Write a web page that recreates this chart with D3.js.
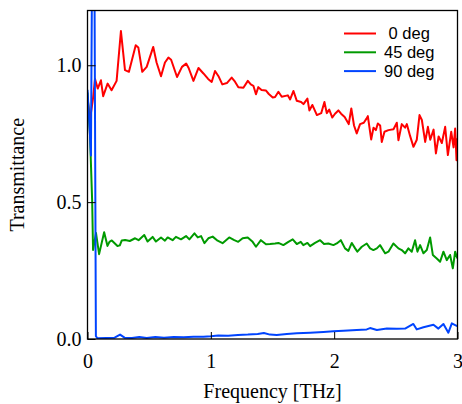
<!DOCTYPE html>
<html>
<head>
<meta charset="utf-8">
<script src="https://cdn.jsdelivr.net/npm/d3@7"></script>
<style>
  body { margin: 0; background: #fff; }
</style>
</head>
<body>
<div id="chart"></div>
<script>
// series: frequency [THz] and transmittance
const freq0 = [0.000, 0.020, 0.045, 0.061, 0.083, 0.109, 0.127, 0.163, 0.195, 0.236, 0.271, 0.304, 0.336, 0.391, 0.412, 0.444, 0.480, 0.533, 0.560, 0.596, 0.628, 0.656, 0.678, 0.726, 0.766, 0.800, 0.820, 0.859, 0.900, 0.940, 0.978, 1.007, 1.034, 1.062, 1.093, 1.130, 1.169, 1.196, 1.223, 1.264, 1.300, 1.324, 1.345, 1.366, 1.385, 1.411, 1.446, 1.470, 1.502, 1.521, 1.548, 1.575, 1.624, 1.643, 1.670, 1.697, 1.732, 1.751, 1.783, 1.799, 1.823, 1.860, 1.895, 1.921, 1.940, 1.960, 1.985, 2.007, 2.034, 2.056, 2.085, 2.118, 2.139, 2.161, 2.183, 2.210, 2.240, 2.262, 2.273, 2.300, 2.319, 2.338, 2.354, 2.373, 2.386, 2.408, 2.440, 2.481, 2.508, 2.521, 2.548, 2.575, 2.589, 2.616, 2.643, 2.670, 2.692, 2.711, 2.738, 2.760, 2.779, 2.806, 2.825, 2.847, 2.873, 2.900, 2.922, 2.949, 2.968, 2.981, 2.992, 3.000]
const trans0 = [0.88, 0.80, 0.88, 0.95, 0.915, 0.945, 0.887, 0.933, 0.909, 0.943, 1.125, 0.982, 0.976, 1.073, 1.065, 0.976, 0.994, 1.067, 1.01, 0.96, 1.01, 1.028, 1.02, 0.957, 0.994, 1.006, 0.99, 0.943, 0.99, 0.97, 0.95, 0.939, 0.979, 0.96, 0.93, 0.935, 0.955, 0.94, 0.92, 0.918, 0.943, 0.93, 0.925, 0.894, 0.92, 0.91, 0.908, 0.895, 0.882, 0.884, 0.903, 0.885, 0.89, 0.875, 0.906, 0.87, 0.866, 0.858, 0.878, 0.835, 0.855, 0.818, 0.825, 0.866, 0.825, 0.838, 0.809, 0.823, 0.835, 0.823, 0.811, 0.785, 0.842, 0.78, 0.751, 0.785, 0.79, 0.805, 0.814, 0.729, 0.772, 0.763, 0.787, 0.78, 0.72, 0.757, 0.763, 0.766, 0.79, 0.726, 0.785, 0.772, 0.785, 0.741, 0.702, 0.728, 0.818, 0.80, 0.72, 0.775, 0.728, 0.765, 0.678, 0.74, 0.716, 0.775, 0.672, 0.757, 0.70, 0.769, 0.653, 0.733]

const freq45 = [0.000, 0.020, 0.038, 0.045, 0.069, 0.094, 0.135, 0.162, 0.178, 0.197, 0.243, 0.262, 0.278, 0.305, 0.343, 0.386, 0.414, 0.460, 0.487, 0.528, 0.555, 0.596, 0.628, 0.650, 0.690, 0.717, 0.758, 0.799, 0.826, 0.867, 0.894, 0.921, 0.948, 0.980, 1.015, 1.055, 1.095, 1.149, 1.190, 1.222, 1.258, 1.299, 1.339, 1.366, 1.406, 1.447, 1.480, 1.521, 1.548, 1.588, 1.629, 1.664, 1.697, 1.729, 1.750, 1.783, 1.805, 1.845, 1.886, 1.918, 1.953, 1.994, 2.021, 2.054, 2.088, 2.115, 2.143, 2.170, 2.188, 2.224, 2.264, 2.291, 2.318, 2.346, 2.372, 2.413, 2.440, 2.480, 2.521, 2.548, 2.575, 2.602, 2.629, 2.656, 2.675, 2.697, 2.724, 2.751, 2.778, 2.800, 2.832, 2.859, 2.886, 2.913, 2.940, 2.962, 2.981, 2.999]
const trans45 = [0.90, 0.75, 0.50, 0.325, 0.387, 0.31, 0.39, 0.34, 0.355, 0.36, 0.34, 0.342, 0.36, 0.362, 0.358, 0.368, 0.361, 0.38, 0.356, 0.373, 0.356, 0.371, 0.359, 0.371, 0.361, 0.373, 0.364, 0.376, 0.364, 0.386, 0.371, 0.376, 0.35, 0.368, 0.374, 0.359, 0.35, 0.371, 0.361, 0.355, 0.368, 0.371, 0.355, 0.337, 0.361, 0.346, 0.347, 0.349, 0.351, 0.343, 0.355, 0.364, 0.347, 0.355, 0.343, 0.351, 0.339, 0.351, 0.361, 0.347, 0.349, 0.343, 0.349, 0.361, 0.331, 0.322, 0.351, 0.331, 0.319, 0.337, 0.349, 0.331, 0.325, 0.331, 0.343, 0.313, 0.319, 0.349, 0.331, 0.325, 0.313, 0.331, 0.319, 0.361, 0.319, 0.343, 0.313, 0.325, 0.371, 0.307, 0.294, 0.282, 0.319, 0.288, 0.307, 0.258, 0.319, 0.294]

const freq90 = [0.000, 0.015, 0.028, 0.040, 0.055, 0.068, 0.080, 0.150, 0.220, 0.264, 0.300, 0.360, 0.420, 0.480, 0.550, 0.620, 0.700, 0.780, 0.860, 0.940, 1.000, 1.060, 1.140, 1.220, 1.300, 1.380, 1.430, 1.480, 1.534, 1.616, 1.697, 1.805, 1.913, 1.994, 2.075, 2.183, 2.264, 2.291, 2.346, 2.427, 2.508, 2.575, 2.642, 2.670, 2.724, 2.805, 2.845, 2.886, 2.926, 2.954, 2.981, 2.999]
const trans90 = [0.91, 0.79, 0.67, 1.6, 1.5, 0.01, 0.003, 0.004, 0.005, 0.016, 0.005, 0.004, 0.007, 0.004, 0.007, 0.005, 0.007, 0.006, 0.008, 0.008, 0.010, 0.013, 0.012, 0.015, 0.016, 0.018, 0.022, 0.016, 0.015, 0.018, 0.021, 0.023, 0.026, 0.028, 0.030, 0.033, 0.035, 0.040, 0.033, 0.038, 0.037, 0.038, 0.055, 0.035, 0.043, 0.052, 0.038, 0.055, 0.023, 0.057, 0.051, 0.047]

const labels = [" 0 deg", "45 deg", "90 deg"]
const colors = ["#ff0000", "#009a00", "#0044ff"]
const xTicks = [0, 1, 2, 3]
const yTicks = [0.0, 0.5, 1.0]

const series = [
    { label: labels[0], color: colors[0], pts: freq0.map((f, i) => [f, trans0[i]]) },
    { label: labels[1], color: colors[1], pts: freq45.map((f, i) => [f, trans45[i]]) },
    { label: labels[2], color: colors[2], pts: freq90.map((f, i) => [f, trans90[i]]) },
]

const W = 462, H = 404
const margin = { top: 10.5, right: 4.5, bottom: 65, left: 87.5 }
const width = W - margin.left - margin.right
const height = H - margin.top - margin.bottom

const svg = d3.select("#chart")
    .append("svg")
    .attr("width", W)
    .attr("height", H)

const g = svg.append("g")
    .attr("transform", `translate(${margin.left},${margin.top})`)

const x = d3.scaleLinear().domain([0, 3]).range([0, width])
const y = d3.scaleLinear().domain([0, 1.2]).range([height, 0])

g.append("clipPath")
    .attr("id", "plot-clip")
    .append("rect")
    .attr("width", width)
    .attr("height", height)

// lines
const line = d3.line()
    .x(d => x(d[0]))
    .y(d => y(d[1]))

g.append("g")
    .attr("clip-path", "url(#plot-clip)")
    .selectAll("path")
    .data(series)
    .join("path")
    .attr("fill", "none")
    .attr("stroke", d => d.color)
    .attr("stroke-width", 2)
    .attr("stroke-linejoin", "round")
    .attr("d", d => line(d.pts))

// axes with inward ticks
const xAxis = g.append("g")
    .attr("transform", `translate(0,${height})`)
    .call(d3.axisBottom(x).tickValues(xTicks).tickFormat(d3.format("d")).tickSize(-7).tickPadding(10))
const yAxis = g.append("g")
    .call(d3.axisLeft(y).tickValues(yTicks).tickFormat(d3.format(".1f")).tickSize(-8).tickPadding(6))

xAxis.select(".domain").remove()
yAxis.select(".domain").remove()
svg.selectAll(".tick text")
    .style("font-family", "'Liberation Serif', serif")
    .style("font-size", "20px")
    .attr("fill", "#000")
xAxis.selectAll(".tick text").attr("dy", "0.95em")
svg.selectAll(".tick line").attr("stroke", "#000")

// frame
g.append("rect")
    .attr("width", width)
    .attr("height", height)
    .attr("fill", "none")
    .attr("stroke", "#000")
    .attr("stroke-width", 1.3)

// axis labels
svg.append("text")
    .attr("x", margin.left + width / 2)
    .attr("y", 398)
    .style("text-anchor", "middle")
    .style("font-family", "'Liberation Serif', serif")
    .style("font-size", "20px")
    .text("Frequency [THz]")

svg.append("text")
    .attr("transform", `translate(24,${margin.top + height / 2}) rotate(-90)`)
    .style("text-anchor", "middle")
    .style("font-family", "'Liberation Serif', serif")
    .style("font-size", "20px")
    .text("Transmittance")

// legend
const legend = svg.append("g")
    .attr("transform", "translate(344,33.5)")
const rows = legend.selectAll("g")
    .data(series)
    .join("g")
    .attr("transform", (d, i) => `translate(0,${i * 18.8})`)
rows.append("line")
    .attr("x1", 0)
    .attr("x2", 32)
    .attr("stroke", d => d.color)
    .attr("stroke-width", 2)
rows.append("text")
    .attr("x", 40)
    .attr("dy", "0.36em")
    .style("white-space", "pre")
    .style("font-family", "'Liberation Sans', Arial, sans-serif")
    .style("font-size", "16.5px")
    .text(d => d.label)
</script>
</body>
</html>
